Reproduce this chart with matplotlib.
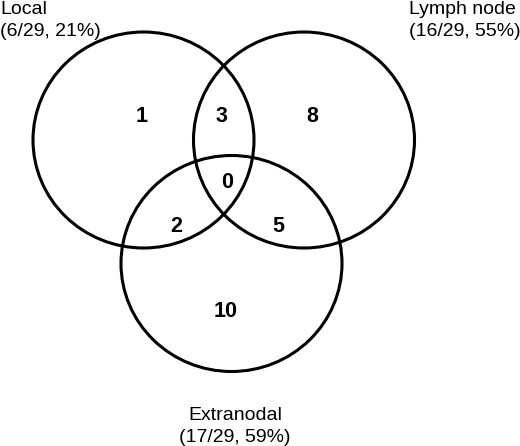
import matplotlib.pyplot as plt
from matplotlib.patches import Ellipse

# set names and sizes
set_names = ["Local", "Lymph node", "Extranodal"]
set_counts = [6, 16, 17]
n_total = 29

# region counts: only L, L&N, only N, all three, L&E, N&E, only E
region_labels = ["1", "3", "8", "0", "2", "5", "10"]

plt.rcParams['font.family'] = ['Liberation Sans', 'DejaVu Sans']

fig = plt.figure(figsize=(5.2, 4.46), dpi=100)
ax = fig.add_axes([0, 0, 1, 1])
ax.set_xlim(0, 520)
ax.set_ylim(446, 0)
ax.axis("off")

# circles (pixel layout)
centers = [(143.5, 140), (304, 140), (231.5, 263.5)]
for c in centers:
    ax.add_patch(Ellipse(c, 221, 216, fill=False, edgecolor="black", lw=2.2))

# numbers inside the regions
region_pos = [(142, 121.5), (221, 121.5), (312, 121.5), (227, 187.5),
              (176, 232), (278, 232), (226, 317)]
for txt, (x, y) in zip(region_labels, region_pos):
    ax.text(x, y, txt, ha="center", va="baseline", fontsize=15.5,
            fontweight="bold")

# set labels
label_pos = [(0, 14, "left"), (409, 14, "left"), (235, 420, "center")]
for name, n, (x, y, ha) in zip(set_names, set_counts, label_pos):
    pct = round(100 * n / n_total)
    ax.text(x, y, name, ha=ha, va="baseline", fontsize=14)
    ax.text(x, y + 21.5, f"({n}/{n_total}, {pct}%)", ha=ha, va="baseline",
            fontsize=14)

plt.savefig("out.png", dpi=100)
